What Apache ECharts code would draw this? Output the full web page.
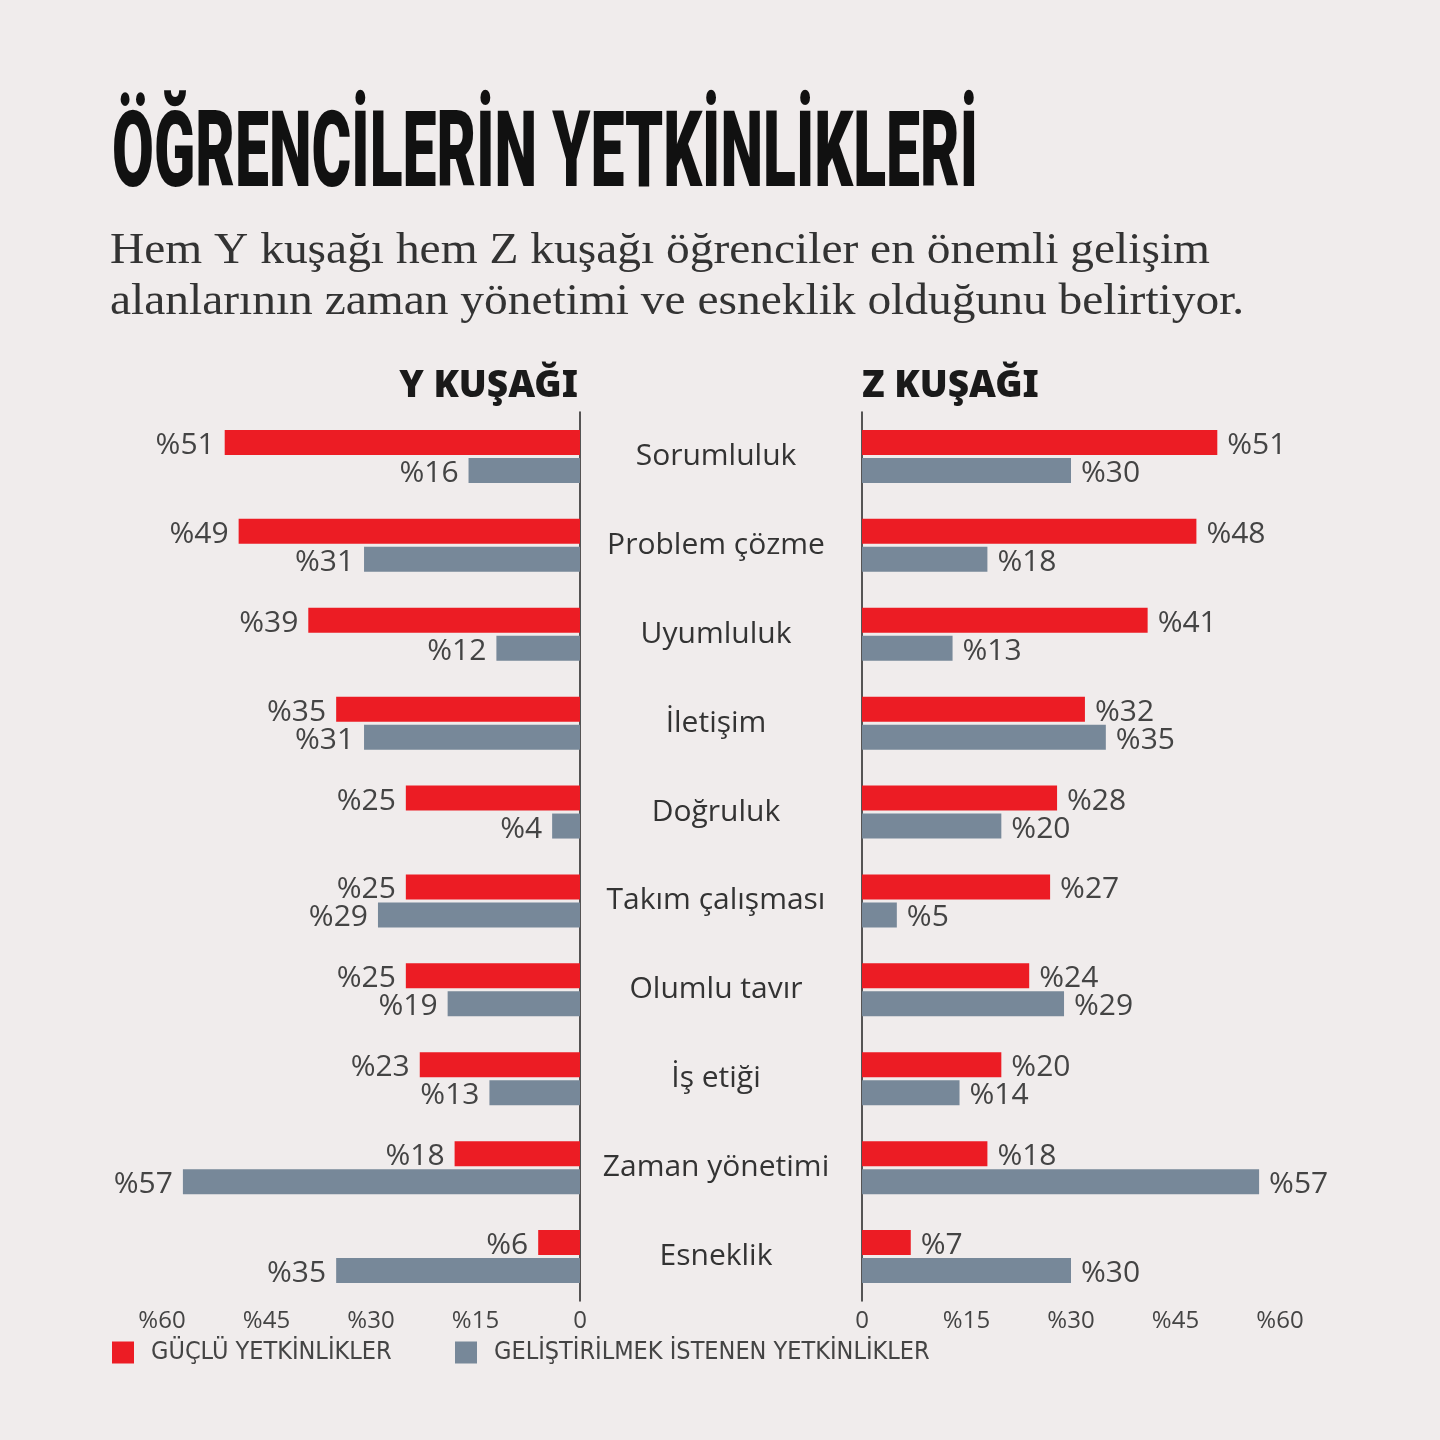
<!DOCTYPE html>
<html>
<head>
<meta charset="utf-8">
<script src="https://cdn.jsdelivr.net/npm/echarts@6/dist/echarts.min.js"></script>
<style>
  html, body { margin: 0; padding: 0; background: #f0ecec; }
  #chart { width: 1440px; height: 1440px; }
</style>
</head>
<body>
<div id="chart"></div>
<script>
// veriler
const categories = ['Sorumluluk', 'Problem çözme', 'Uyumluluk', 'İletişim', 'Doğruluk',
    'Takım çalışması', 'Olumlu tavır', 'İş etiği', 'Zaman yönetimi', 'Esneklik'];
const yStrong = [51, 49, 39, 35, 25, 25, 25, 23, 18, 6];
const yDevelop = [16, 31, 12, 31, 4, 29, 19, 13, 57, 35];
const zStrong = [51, 48, 41, 32, 28, 27, 24, 20, 18, 7];
const zDevelop = [30, 18, 13, 35, 20, 5, 29, 14, 57, 30];
const axisTicks = [0, 15, 30, 45, 60];

const STRONG = 'GÜÇLÜ YETKİNLİKLER';
const DEVELOP = 'GELİŞTİRİLMEK İSTENEN YETKİNLİKLER';
const RED = '#ec1c24';
const GRAY = '#778899';

const title = 'ÖĞRENCİLERİN YETKİNLİKLERİ';
const subtitle1 = 'Hem Y kuşağı hem Z kuşağı öğrenciler en önemli gelişim';
const subtitle2 = 'alanlarının zaman yönetimi ve esneklik olduğunu belirtiyor.';

// başlığı dar göstermek için genişliği ölç
function textWidth(txt, font) {
    const c = document.createElement('canvas').getContext('2d');
    c.font = font;
    return c.measureText(txt).width;
}
const titleFont = '900 106px Roboto';
const titleScale = 866 / textWidth(title, titleFont);
const subFont = '44px "Liberation Serif"';
const subScale = 1100 / textWidth(subtitle1, subFont);

const chart = echarts.init(document.getElementById('chart'));

const labelStyle = {
    show: true,
    fontSize: 30,
    color: '#444',
    fontFamily: '"Open Sans", sans-serif',
    distance: 10,
    offset: [0, 3],
    formatter: p => '%' + p.value
};

function xAxisDef(gridIndex, inverse) {
    return {
        gridIndex, type: 'value', min: 0, max: 60, interval: 15, inverse,
        axisLine: { show: false }, axisTick: { show: false }, splitLine: { show: false },
        axisLabel: {
            margin: 8, fontSize: 24, color: '#444', fontFamily: '"Open Sans", sans-serif',
            customValues: axisTicks,
            formatter: v => v === 0 ? '0' : '%' + v
        }
    };
}

const legendText = {
    fontSize: 25, color: '#444',
    fontFamily: '"Liberation Sans Narrow", "DejaVu Sans Condensed", Roboto',
    padding: [0, 0, 0, 12]
};

const option = {
    backgroundColor: '#f0ecec',
    animation: false,
    grid: [
        { left: 162, width: 418, top: 412, height: 889 },
        { left: 862, width: 418, top: 412, height: 889 }
    ],
    xAxis: [xAxisDef(0, true), xAxisDef(1, false)],
    yAxis: [
        {
            gridIndex: 0, type: 'category', data: categories, inverse: true, position: 'right',
            axisLine: { show: true, lineStyle: { color: '#222', width: 1.5 } },
            axisTick: { show: false },
            axisLabel: {
                margin: 136, align: 'center', fontSize: 30, color: '#333',
                fontFamily: '"Open Sans", sans-serif'
            }
        },
        {
            gridIndex: 1, type: 'category', data: categories, inverse: true, position: 'left',
            axisLine: { show: true, lineStyle: { color: '#222', width: 1.5 } },
            axisTick: { show: false },
            axisLabel: { show: false }
        }
    ],
    legend: [
        {
            left: 112, top: 1340, padding: 0, itemWidth: 22, itemHeight: 22, icon: 'rect',
            data: [STRONG], textStyle: legendText
        },
        {
            left: 455, top: 1340, padding: 0, itemWidth: 22, itemHeight: 22, icon: 'rect',
            data: [DEVELOP], textStyle: legendText
        }
    ],
    series: [
        { name: STRONG, type: 'bar', xAxisIndex: 0, yAxisIndex: 0, data: yStrong, barWidth: 25, barGap: '12%',
          itemStyle: { color: RED }, label: Object.assign({ position: 'left' }, labelStyle) },
        { name: DEVELOP, type: 'bar', xAxisIndex: 0, yAxisIndex: 0, data: yDevelop, barWidth: 25, barGap: '12%',
          itemStyle: { color: GRAY }, label: Object.assign({ position: 'left' }, labelStyle) },
        { name: STRONG, type: 'bar', xAxisIndex: 1, yAxisIndex: 1, data: zStrong, barWidth: 25, barGap: '12%',
          itemStyle: { color: RED }, label: Object.assign({ position: 'right' }, labelStyle) },
        { name: DEVELOP, type: 'bar', xAxisIndex: 1, yAxisIndex: 1, data: zDevelop, barWidth: 25, barGap: '12%',
          itemStyle: { color: GRAY }, label: Object.assign({ position: 'right' }, labelStyle) }
    ],
    graphic: [
        {
            type: 'text', left: 112, top: 106, scaleX: titleScale,
            style: { text: title, font: titleFont, fill: '#111' }
        },
        {
            type: 'text', left: 110, top: 226, scaleX: subScale,
            style: { text: subtitle1 + '\n' + subtitle2, font: subFont, fill: '#333', lineHeight: 51 }
        },
        {
            type: 'text', right: 1440 - 578, top: 368,
            style: { text: 'Y KUŞAĞI', font: '900 37px "Noto Sans"', fill: '#1a1a1a' }
        },
        {
            type: 'text', left: 862, top: 368,
            style: { text: 'Z KUŞAĞI', font: '900 37px "Noto Sans"', fill: '#1a1a1a' }
        }
    ]
};

chart.setOption(option);
</script>
</body>
</html>
